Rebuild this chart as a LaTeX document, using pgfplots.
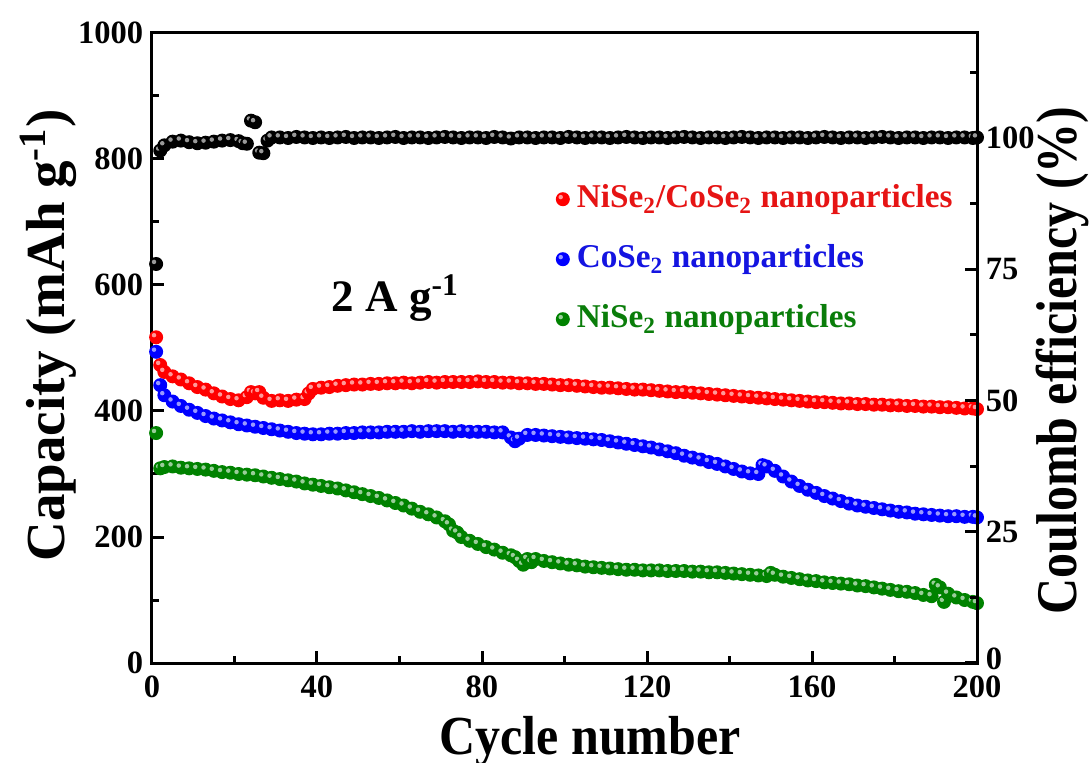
\documentclass[border=0pt]{standalone}
\usepackage{pgfplots}
\pgfplotsset{compat=1.18}
\usepackage{fontspec}
\setmainfont{Liberation Serif}
\usepackage{graphicx}

\definecolor{cred}{RGB}{255,0,0}
\definecolor{cblue}{RGB}{0,0,255}
\definecolor{cgreen}{RGB}{0,130,0}
\definecolor{tred}{RGB}{230,20,20}
\definecolor{tblue}{RGB}{20,20,225}
\definecolor{tgreen}{RGB}{10,125,10}

\pgfdeclareplotmark{hball}{%
  \pgfpathcircle{\pgfqpoint{0pt}{0pt}}{\pgfplotmarksize}%
  \pgfusepathqfill
  \begin{pgfscope}
  \pgfsetfillcolor{white}\pgfsetfillopacity{0.6}%
  \pgfpathcircle{\pgfqpoint{-0.3\pgfplotmarksize}{0.3\pgfplotmarksize}}{0.32\pgfplotmarksize}%
  \pgfusepathqfill
  \end{pgfscope}}

\pgfplotsset{
  base/.style={
    width=330pt, height=252pt, scale only axis,
    at={(0,0)}, anchor=south west,
    xmin=0, xmax=200,
    axis line style={line width=1.2pt},
    every tick/.style={line width=1.2pt, black},
    tick align=inside,
    major tick length=4.8pt, minor tick length=2.8pt,
    tick label style={font=\bfseries\fontsize{13}{13}\selectfont},
    /pgf/number format/assume math mode=true,
    /pgf/number format/1000 sep={},
  },
  ser/.style={only marks, mark=hball, mark size=2.8pt, mark options={draw=none, fill=#1}},
}

\begin{document}
\begin{tikzpicture}
\useasboundingbox (-60.8pt,-40pt) rectangle (375.6pt,265.2pt);
\begin{axis}[base,
  ymin=0, ymax=1000,
  xtick={0,40,...,200}, minor xtick={20,60,...,180},
  ytick={0,200,...,1000}, minor ytick={100,300,...,900},
  xtick pos=bottom, ytick pos=left,
  xticklabel style={yshift=-5pt, inner ysep=0pt},
  xlabel={\scalebox{1}[1.1]{Cycle number}},
  ylabel={Capacity (mAh g\textsuperscript{-1})},
  xlabel style={at={(axis description cs:0.531,-0.124)}, anchor=center, inner sep=0pt, font=\bfseries\fontsize{20}{20}\selectfont},
  ylabel style={at={(axis description cs:-0.126,0.52)}, anchor=center, font=\bfseries\fontsize{22}{22}\selectfont},
  legend style={at={(axis cs:97.9,762)}, anchor=north west, draw=none, fill=none,
    inner sep=0pt, outer sep=0pt, row sep=11pt,
    font=\bfseries\fontsize{13.3}{13.3}\selectfont,
    nodes={inner sep=0pt, text height=10pt, text depth=3pt},
    /tikz/every odd column/.append style={column sep=2.8pt}},
  legend cell align=left,
  legend image code/.code={\draw[#1] plot coordinates {(0pt,0pt)};},
]
\addplot[ser=cred] table {
x y
1 517
2 473
3 462
5 455
7 450
9 444
11 438
13 434
15 428
17 423
19 419
21 417
23 422
24 430
25 428
26 430
27 421
29 416
31 417
33 416
35 418
37 419
38 428
39 435
41 437
43 438
45 440
47 441
49 442
51 442
53 443
55 443
57 444
59 444
61 445
63 444
65 445
67 446
69 445
71 446
73 446
75 446
77 446
79 447
81 446
83 446
85 445
87 445
89 444
91 444
93 443
95 443
97 442
99 441
101 441
103 440
105 439
107 438
109 437
111 437
113 436
115 435
117 434
119 434
121 433
123 432
125 431
127 430
129 430
131 429
133 428
135 427
137 426
139 425
141 424
143 423
145 422
147 421
149 420
151 419
153 418
155 417
157 416
159 415
161 414
163 414
165 413
167 412
169 412
171 411
173 411
175 410
177 410
179 409
181 409
183 408
185 408
187 407
189 407
191 406
193 406
195 405
197 404
199 404
200 403
};
\addlegendentry{\textcolor{tred}{NiSe\textsubscript{2}/CoSe\textsubscript{2} nanoparticles}}
\addplot[ser=cblue] table {
x y
1 494
2 441
3 425
5 415
7 408
9 402
11 397
13 392
15 388
17 385
19 382
21 379
23 377
25 375
27 373
29 371
31 369
33 367
35 365
37 364
39 363
41 363
43 364
45 364
47 365
49 365
51 366
53 366
55 366
57 367
59 367
61 367
63 368
65 367
67 368
69 368
71 368
73 367
75 368
77 367
79 367
81 367
83 366
85 366
87 358
88 352
89 356
91 362
93 362
95 361
97 360
99 359
101 358
103 357
105 356
107 355
109 354
111 352
113 350
115 348
117 346
119 344
121 342
123 339
125 336
127 333
129 329
131 326
133 323
135 319
137 316
139 312
141 308
143 304
145 301
147 300
148 314
149 312
151 305
153 296
155 288
157 281
159 275
161 270
163 265
165 261
167 257
169 253
171 250
173 248
175 246
177 244
179 242
181 240
183 239
185 237
187 236
189 235
191 234
193 233
195 233
197 232
199 232
200 231
};
\addlegendentry{\textcolor{tblue}{CoSe\textsubscript{2} nanoparticles}}
\addplot[ser=cgreen] table {
x y
1 365
2 309
3 311
5 312
7 310
9 309
11 308
13 307
15 305
17 303
19 302
21 300
23 299
25 298
27 296
29 294
31 292
33 290
35 288
37 285
39 283
41 281
43 279
45 277
47 274
49 271
51 268
53 265
55 262
57 258
59 254
61 250
63 245
65 240
67 236
69 231
71 225
72 220
73 210
74 207
75 200
77 194
79 189
81 184
83 180
85 175
87 171
88 168
89 162
90 156
91 165
92 160
93 165
95 162
97 160
99 158
101 156
103 155
105 153
107 152
109 151
111 150
113 149
115 148
117 148
119 147
121 147
123 147
125 146
127 146
129 146
131 145
133 145
135 144
137 144
139 143
141 142
143 141
145 140
147 139
149 138
150 143
151 140
153 137
155 135
157 133
159 131
161 130
163 128
165 127
167 126
169 125
171 123
173 122
175 120
177 118
179 116
181 114
183 113
185 111
187 108
189 106
190 124
191 120
192 97
193 110
195 104
197 100
199 97
200 95
};
\addlegendentry{\textcolor{tgreen}{NiSe\textsubscript{2} nanoparticles}}
\node[font=\bfseries\fontsize{18}{18}\selectfont] at (axis cs:59,579) {2 A g\textsuperscript{-1}};
\end{axis}

\begin{axis}[base,
  ymin=0, ymax=120,
  axis x line=none, axis y line*=right,
  ytick={0,25,...,100}, minor ytick={12.5,37.5,62.5,87.5,112.5},
  yticklabels={\smash{\raisebox{-2.5pt}{0}},25,50,75,100},
  yticklabel style={inner ysep=0pt},
  ylabel={\scalebox{1}[1.15]{Coulomb efficiency (\%)}},
  ylabel style={at={(axis description cs:1.103,0.48)}, anchor=center, font=\bfseries\fontsize{20}{20}\selectfont},
]
\addplot[ser=black] table {
x y
1 76.0
2 97.6
3 98.6
5 99.3
7 99.5
9 99.2
11 99.0
13 99.1
15 99.3
17 99.5
19 99.6
21 99.4
22 99.0
23 98.9
24 103.3
25 103.0
26 97.2
27 97.1
28 99.5
29 100.1
31 100.1
33 100.0
35 100.2
37 100.1
39 100.0
41 100.1
43 100.0
45 100.1
47 100.2
49 100.0
51 100.1
53 100.1
55 100.0
57 100.1
59 100.2
61 100.0
63 100.1
65 100.1
67 100.0
69 100.1
71 100.2
73 100.1
75 100.0
77 100.1
79 100.1
81 100.0
83 100.2
85 100.1
87 99.9
89 100.1
91 100.1
93 100.0
95 100.1
97 100.1
99 100.0
101 100.2
103 100.1
105 100.0
107 100.1
109 100.1
111 100.0
113 100.1
115 100.2
117 100.1
119 100.0
121 100.1
123 100.1
125 100.0
127 100.1
129 100.2
131 100.1
133 100.0
135 100.1
137 100.1
139 100.0
141 100.1
143 100.2
145 100.1
147 100.0
149 100.1
151 100.1
153 100.0
155 100.1
157 100.1
159 100.0
161 100.1
163 100.2
165 100.1
167 100.0
169 100.1
171 100.1
173 100.0
175 100.1
177 100.2
179 100.1
181 100.0
183 100.1
185 100.1
187 100.0
189 100.1
191 100.1
193 100.0
195 100.1
197 100.1
199 100.0
200 100.1
};
\end{axis}
\end{tikzpicture}
\end{document}
